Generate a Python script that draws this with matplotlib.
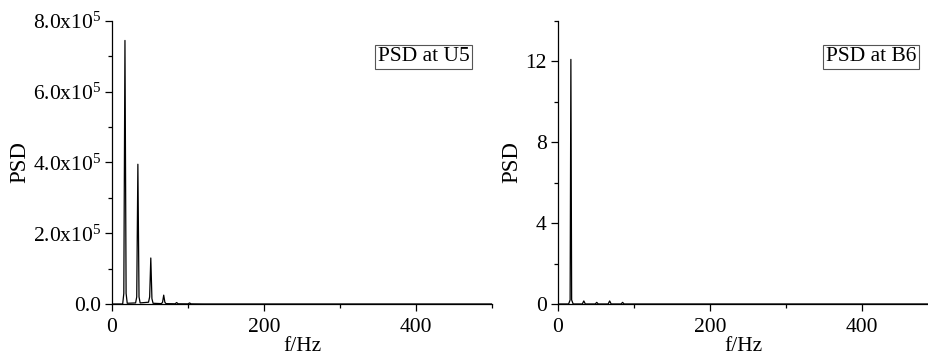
import matplotlib
matplotlib.use('Agg')
import matplotlib.pyplot as plt
from matplotlib.ticker import FixedLocator, MultipleLocator, FixedFormatter

plt.rcParams['font.family'] = ['Liberation Serif', 'DejaVu Serif']
plt.rcParams['mathtext.fontset'] = 'custom'
plt.rcParams['mathtext.rm'] = 'Liberation Serif'
plt.rcParams['mathtext.it'] = 'Liberation Serif:italic'

# PSD at U5
f_u5 = [0, 14, 15.5, 17, 18.5, 20, 31, 32.5, 34, 35.5, 37, 48, 49.5, 51, 52.5, 54,
        65, 66.5, 68, 69.5, 71, 83, 85, 87, 100, 102, 104, 120, 500]
psd_u5 = [0, 0, 0.3e5, 7.45e5, 0.3e5, 0.02e5, 0.03e5, 0.2e5, 3.95e5, 0.2e5, 0.03e5,
          0.05e5, 0.2e5, 1.3e5, 0.15e5, 0.02e5, 0.01e5, 0.05e5, 0.25e5, 0.05e5, 0.01e5,
          0.005e5, 0.04e5, 0.005e5, 0.003e5, 0.03e5, 0.003e5, 0, 0]

# PSD at B6
f_b6 = [0, 14, 16, 17, 18, 20, 32, 34, 36, 49, 51, 53, 66, 68, 70, 83, 85, 87, 500]
psd_b6 = [0, 0, 0.2, 12.1, 0.2, 0, 0, 0.15, 0, 0, 0.08, 0, 0, 0.15, 0, 0, 0.08, 0, 0]

u5_ticks = [0, 2e5, 4e5, 6e5, 8e5]
u5_labels = ['0.0', '2.0x10$^5$', '4.0x10$^5$', '6.0x10$^5$', '8.0x10$^5$']

FS = 15.5

fig = plt.figure(figsize=(9.29, 3.6), dpi=100)
ax1 = fig.add_axes([0.1206, 0.1556, 0.409, 0.7861])
ax2 = fig.add_axes([0.6006, 0.1556, 0.3994, 0.7861])


def style(ax):
    for s in ['top', 'right']:
        ax.spines[s].set_visible(False)
    for s in ['left', 'bottom']:
        ax.spines[s].set_linewidth(0.9)
    ax.tick_params(which='major', direction='out', length=5, width=0.9, labelsize=FS, pad=3)
    ax.tick_params(axis='x', which='major', pad=5)
    ax.tick_params(which='minor', direction='out', length=3, width=0.9)
    ax.xaxis.set_major_locator(MultipleLocator(200))
    ax.xaxis.set_minor_locator(MultipleLocator(100))
    ax.set_xlabel('f/Hz', fontsize=FS, labelpad=0)
    ax.set_ylabel('PSD', fontsize=FS + 1, labelpad=2)


ax1.plot(f_u5, psd_u5, color='black', lw=0.9)
ax1.set_xlim(0, 500)
ax1.set_ylim(0, 8e5)
style(ax1)
ax1.yaxis.set_major_locator(FixedLocator(u5_ticks))
ax1.yaxis.set_major_formatter(FixedFormatter(u5_labels))
ax1.yaxis.set_minor_locator(MultipleLocator(1e5))
ax1.text(0.82, 0.873, 'PSD at U5', transform=ax1.transAxes, fontsize=FS,
         ha='center', va='center',
         bbox=dict(boxstyle='square,pad=0.12', facecolor='white', edgecolor='#555555', lw=0.8))

ax2.plot(f_b6, psd_b6, color='black', lw=0.9)
ax2.set_xlim(0, 488)
ax2.set_ylim(0, 14)
style(ax2)
ax2.yaxis.set_major_locator(MultipleLocator(4))
ax2.yaxis.set_minor_locator(MultipleLocator(2))
ax2.text(0.844, 0.873, 'PSD at B6', transform=ax2.transAxes, fontsize=FS,
         ha='center', va='center',
         bbox=dict(boxstyle='square,pad=0.12', facecolor='white', edgecolor='#555555', lw=0.8))

fig.savefig('out.png', dpi=100)
